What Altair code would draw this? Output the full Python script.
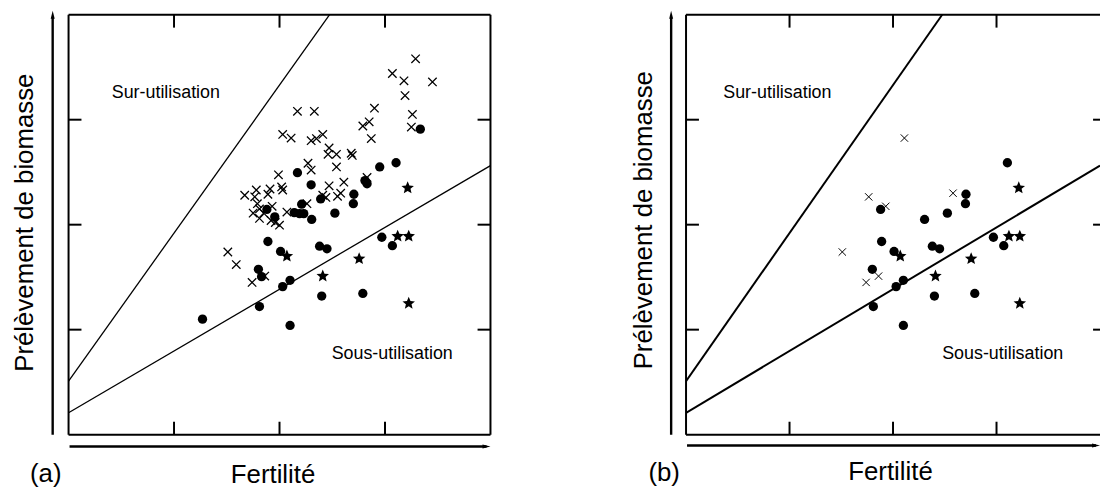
import math
import altair as alt
import pandas as pd

# ---------------- data ----------------
circle_x = [1.27, 1.81, 2.10, 2.03, 2.10, 2.40, 2.79, 1.80, 1.83, 1.89, 2.01,
            2.38, 2.45, 2.97, 3.07, 1.88, 1.955, 2.17, 2.30, 2.21, 2.14, 2.19,
            2.23, 2.305, 2.39, 2.525, 2.70, 2.705, 2.81, 2.83, 2.95, 3.105, 3.335]
circle_y = [1.10, 1.22, 1.04, 1.41, 1.47, 1.32, 1.345, 1.575, 1.505, 1.84, 1.745,
            1.795, 1.77, 1.88, 1.80, 2.145, 2.075, 2.495, 2.38, 2.195, 2.115, 2.105,
            2.105, 2.05, 2.245, 2.11, 2.20, 2.29, 2.42, 2.39, 2.55, 2.59, 2.91]

star_x = [3.215, 3.12, 3.225, 2.07, 2.755, 2.41, 3.225]
star_y = [2.35, 1.89, 1.89, 1.70, 1.675, 1.51, 1.25]

cross_x = [3.29, 3.07, 3.18, 3.45, 3.19, 2.90, 3.26, 3.25, 2.17, 2.33, 2.79, 2.85,
           2.87, 2.03, 2.11, 2.30, 2.35, 2.41, 2.47, 2.46, 2.54, 2.54, 2.68, 2.69,
           2.27, 2.30, 1.99, 2.61, 2.47, 2.83, 2.41, 2.44, 2.55, 2.58, 2.26, 2.07,
           2.02, 2.03, 1.91, 1.89, 1.78, 1.765, 1.67, 1.79, 1.81, 1.75, 1.93, 1.81,
           1.92, 2.00, 1.96, 1.51, 1.59, 1.74, 1.86, 1.85]
cross_y = [3.58, 3.44, 3.37, 3.36, 3.23, 3.11, 3.05, 2.93, 3.08, 3.08, 2.94, 2.98,
           2.82, 2.86, 2.825, 2.80, 2.82, 2.86, 2.73, 2.67, 2.67, 2.55, 2.68, 2.66,
           2.585, 2.52, 2.475, 2.405, 2.37, 2.45, 2.28, 2.26, 2.27, 2.30, 2.20, 2.12,
           2.36, 2.33, 2.34, 2.29, 2.33, 2.265, 2.28, 2.20, 2.15, 2.11, 2.175, 2.06,
           2.04, 1.995, 2.02, 1.74, 1.62, 1.45, 1.51, 2.11]

# panel (b) shows a subset of the points of panel (a)
b_circle_idx = [1, 2, 3, 4, 5, 6, 7, 9, 10, 11, 12, 13, 14, 15, 23, 25, 26, 27, 31]
b_cross_idx = [14, 41, 46, 33, 51, 53, 54]

# two reference lines (end points)
steep_x = [0.0, 2.475]
steep_y = [0.51, 4.0]
flat_x = [0.0, 4.0]
flat_y = [0.208, 2.563]

tick_vals = [1, 2, 3]

# ---------------- style ----------------
FONT = "Liberation Sans"
H = 423
TICK = 13


def star_path(n=5, r_in=0.45):
    pts = []
    for i in range(2 * n):
        r = 1.0 if i % 2 == 0 else r_in
        a = math.pi * i / n
        pts.append((r * math.sin(a), -r * math.cos(a)))
    return "M" + "L".join(f"{x:.3f},{y:.3f}" for x, y in pts) + "Z"


STAR = star_path()
XSHAPE = "M-1,-1L1,1M-1,1L1,-1"
UP = "M0,-1L0.5,1L-0.5,1Z"
RIGHT = "M1,0L-1,0.5L-1,-0.5Z"

one = pd.DataFrame({"k": [0]})


def sc():
    return alt.Scale(domain=[0, 4], nice=False, zero=False)


def X(f="x"):
    return alt.X(f"{f}:Q", scale=sc(), axis=None)


def Y(f="y"):
    return alt.Y(f"{f}:Q", scale=sc(), axis=None)


def panel(W, cidx, xidx, p):
    circ = pd.DataFrame({"x": [circle_x[i] for i in cidx], "y": [circle_y[i] for i in cidx]})
    stars = pd.DataFrame({"x": star_x, "y": star_y})
    crosses = pd.DataFrame({"x": [cross_x[i] for i in xidx], "y": [cross_y[i] for i in xidx]})
    lines = pd.DataFrame({
        "x": steep_x + flat_x,
        "y": steep_y + flat_y,
        "line": ["steep", "steep", "flat", "flat"],
    })
    ticks = pd.DataFrame({"v": tick_vals})
    fw = 2

    layers = []
    # frame
    layers.append(alt.Chart(one).mark_rule(color="black", strokeWidth=fw).encode(
        x=alt.value(0), x2=alt.value(W), y=alt.value(0)))
    layers.append(alt.Chart(one).mark_rule(color="black", strokeWidth=fw).encode(
        x=alt.value(0), x2=alt.value(W), y=alt.value(H)))
    layers.append(alt.Chart(one).mark_rule(color="black", strokeWidth=fw).encode(
        x=alt.value(0), y=alt.value(0), y2=alt.value(H)))
    if p["right_frame"]:
        layers.append(alt.Chart(one).mark_rule(color="black", strokeWidth=fw).encode(
            x=alt.value(W), y=alt.value(0), y2=alt.value(H)))
    # inward ticks
    layers.append(alt.Chart(ticks).mark_rule(color="black", strokeWidth=fw).encode(
        x=X("v"), y=alt.value(H), y2=alt.value(H - TICK)))
    layers.append(alt.Chart(ticks).mark_rule(color="black", strokeWidth=fw).encode(
        x=X("v"), y=alt.value(0), y2=alt.value(TICK)))
    layers.append(alt.Chart(ticks).mark_rule(color="black", strokeWidth=fw).encode(
        y=Y("v"), x=alt.value(0), x2=alt.value(TICK)))
    layers.append(alt.Chart(ticks).mark_rule(color="black", strokeWidth=fw).encode(
        y=Y("v"), x=alt.value(W - p["rtick"]), x2=alt.value(W)))
    # reference lines
    layers.append(alt.Chart(lines).mark_line(color="black", strokeWidth=p["lw"], clip=True).encode(
        x=X(), y=Y(), detail="line:N"))
    # points
    layers.append(alt.Chart(crosses).mark_point(shape=XSHAPE, filled=False, color="black",
                                                size=p["xsize"], strokeWidth=p["xsw"], opacity=1).encode(x=X(), y=Y()))
    layers.append(alt.Chart(circ).mark_point(shape="circle", filled=True, color="black",
                                             size=88, opacity=1).encode(x=X(), y=Y()))
    layers.append(alt.Chart(stars).mark_point(shape=STAR, filled=True, color="black",
                                              size=175, opacity=1).encode(x=X(), y=Y()))
    # axis arrows
    ax = p["yarrow_x"]
    layers.append(alt.Chart(one).mark_rule(color="black", strokeWidth=2.4).encode(
        x=alt.value(ax), y=alt.value(H), y2=alt.value(3)))
    layers.append(alt.Chart(one).mark_point(shape=UP, filled=True, color="black", size=64,
                                            strokeWidth=0, opacity=1).encode(
        x=alt.value(ax), y=alt.value(0)))
    ay = p["xarrow_y"]
    layers.append(alt.Chart(one).mark_rule(color="black", strokeWidth=2.4).encode(
        x=alt.value(1), x2=alt.value(W - 4), y=alt.value(ay)))
    layers.append(alt.Chart(one).mark_point(shape=RIGHT, filled=True, color="black", size=64,
                                            strokeWidth=0, opacity=1).encode(
        x=alt.value(W - 4), y=alt.value(ay)))
    # texts
    layers.append(alt.Chart(one).mark_text(text="Sur-utilisation", font=FONT, fontSize=18, color="black",
                                           align="center", baseline="middle").encode(
        x=alt.value(p["sur_x"]), y=alt.value(79)))
    layers.append(alt.Chart(one).mark_text(text="Sous-utilisation", font=FONT, fontSize=18, color="black",
                                           align="center", baseline="middle").encode(
        x=alt.value(p["sous_x"]), y=alt.value(342)))
    layers.append(alt.Chart(one).mark_text(text="Fertilité", font=FONT, fontSize=26, color="black",
                                           align="center", baseline="alphabetic").encode(
        x=alt.value(206), y=alt.value(p["xlab_y"])))
    layers.append(alt.Chart(one).mark_text(text=p["tag"], font=FONT, fontSize=26, color="black",
                                           align="center", baseline="alphabetic").encode(
        x=alt.value(p["tag_x"]), y=alt.value(p["tag_y"])))
    layers.append(alt.Chart(one).mark_text(text="Prélèvement de biomasse", font=FONT, fontSize=26,
                                           color="black", angle=270, align="center",
                                           baseline="alphabetic").encode(
        x=alt.value(p["ylab_x"]), y=alt.value(p["ylab_y"])))
    if p.get("anchor"):
        layers.append(alt.Chart(one).mark_rule(strokeWidth=0, strokeOpacity=0).encode(
            x=alt.value(-61), y=alt.value(-5), y2=alt.value(-5)))
    return alt.layer(*layers).properties(width=W, height=H)


pa = panel(425, list(range(len(circle_x))), list(range(len(cross_x))), dict(
    right_frame=True, rtick=TICK, lw=1.3, xsize=72, xsw=1.3, yarrow_x=-16, xarrow_y=435,
    sur_x=98, sous_x=326, xlab_y=472, tag="(a)", tag_x=-23, tag_y=471,
    ylab_x=-36, ylab_y=209.5, anchor=True))

pb = panel(417, b_circle_idx, b_cross_idx, dict(
    right_frame=False, rtick=7, lw=2, xsize=55, xsw=1.0, yarrow_x=-15, xarrow_y=434,
    sur_x=92, sous_x=319, xlab_y=469, tag="(b)", tag_x=-22, tag_y=470,
    ylab_x=-34, ylab_y=207))

chart = alt.hconcat(pa, pb, spacing=197, bounds="flush", padding=0).configure_view(strokeWidth=0)

chart.save("out.html", embed_options={"renderer": "svg", "actions": False})
